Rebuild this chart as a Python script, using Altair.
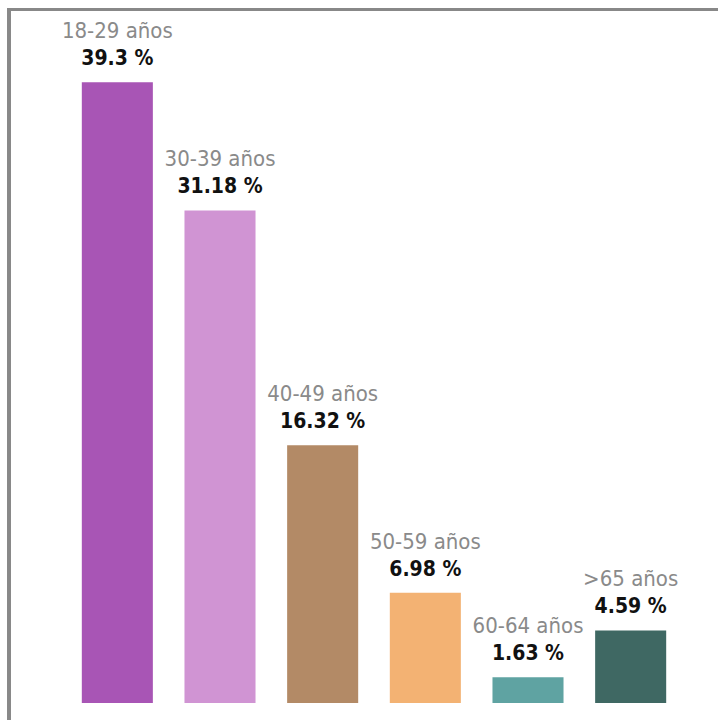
import altair as alt
import pandas as pd

groups = ["18-29 años", "30-39 años", "40-49 años", "50-59 años", "60-64 años", ">65 años"]
values = [39.3, 31.18, 16.32, 6.98, 1.63, 4.59]
value_labels = ["39.3 %", "31.18 %", "16.32 %", "6.98 %", "1.63 %", "4.59 %"]
colors = ["#a855b5", "#d094d3", "#b38a66", "#f3b273", "#5fa3a2", "#3f6863"]

df = pd.DataFrame({"grupo": groups, "valor": values, "etiqueta": value_labels})

FONT = "DejaVu Sans Condensed"

x = alt.X("grupo:N", sort=groups, axis=None,
          scale=alt.Scale(paddingInner=0.308, paddingOuter=0.154))
y = alt.Y("valor:Q", axis=None, scale=alt.Scale(domain=[0, 44], nice=False, zero=True))

bars = alt.Chart(df).mark_bar().encode(
    x=x, y=y,
    color=alt.Color("grupo:N", sort=groups, legend=None,
                    scale=alt.Scale(domain=groups, range=colors)),
)

pct = alt.Chart(df).mark_text(
    baseline="alphabetic", dy=-17, fontSize=21, fontWeight="bold", font=FONT, color="#111111"
).encode(x=x, y=y, text="etiqueta:N")

age = alt.Chart(df).mark_text(
    baseline="alphabetic", dy=-44, fontSize=22, font=FONT, color="#8a8a8a"
).encode(x=x, y=y, text="grupo:N")

frame_top = alt.Chart(df).mark_rule(color="#888888", strokeWidth=3).encode(
    x=alt.value(-58), x2=alt.value(660), y=alt.value(1.5)
)
frame_left = alt.Chart(df).mark_rule(color="#888888", strokeWidth=3).encode(
    x=alt.value(-57), y=alt.value(0), y2=alt.value(720)
)

chart = alt.layer(bars, pct, age, frame_top, frame_left).properties(
    width=616, height=695,
    autosize=alt.AutoSizeParams(type="none"),
    padding={"left": 66, "top": 8, "right": 36, "bottom": 17},
    background="white",
).configure_view(stroke=None)

chart.save("out.html", embed_options={"renderer": "svg", "actions": False})
